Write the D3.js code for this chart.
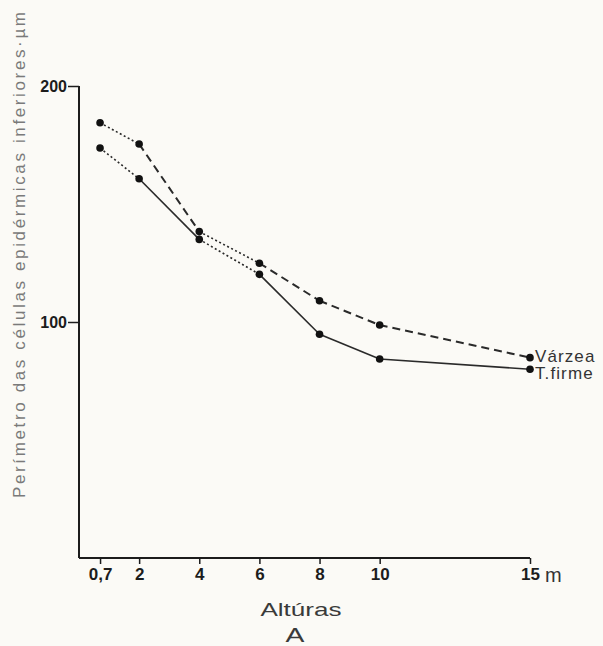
<!DOCTYPE html>
<html>
<head>
<meta charset="utf-8">
<script src="https://cdn.jsdelivr.net/npm/d3@7"></script>
<style>
  html, body { margin: 0; padding: 0; background: #fbfaf6; }
  svg { display: block; }
  text { font-family: "Liberation Sans", Arial, sans-serif; }
</style>
</head>
<body>
<svg id="chart" width="603" height="646"></svg>
<script>
// Heights (m) at which leaves were sampled
const heights = [0.7, 2, 4, 6, 8, 10, 15];
const xTickLabels = ["0,7", "2", "4", "6", "8", "10", "15"];
const yTicks = [100, 200];

// Perimeter of lower epidermal cells (µm)
const varzea = [184.4, 175.4, 138.3, 124.9, 109.0, 98.7, 84.9];
const tfirme = [173.7, 160.7, 135.0, 120.2, 94.8, 84.3, 80.0];

// Stroke style of each segment between consecutive heights
const varzeaSegments = ["dotted", "dashed", "dotted", "dashed", "dashed", "dashed"];
const tfirmeSegments = ["dotted", "solid", "dotted", "solid", "solid", "solid"];

const seriesNames = ["Várzea", "T.firme"];

const svg = d3.select("#chart");
const x = d3.scaleLinear().domain([0, 15]).range([79, 530]);
const y = d3.scaleLinear().domain([0, 200]).range([558, 86]);

const ink = "#1c1c1c";

// Axes drawn as plain lines with outward ticks
const yAxis = d3.axisLeft(y).tickValues(yTicks).tickSize(11).tickFormat(d3.format("d"));
const gy = svg.append("g").attr("transform", `translate(${x(0)},0)`).call(yAxis);
gy.select(".domain").attr("d", `M0,${y(200)}V${y(0)}`).attr("stroke", ink).attr("stroke-width", 2);
gy.selectAll(".tick line").attr("stroke", ink).attr("stroke-width", 1.5);
gy.selectAll(".tick text")
  .attr("font-size", 16).attr("fill", ink).attr("x", -12).attr("dy", "0.36em")
  .attr("font-weight", "bold")
  .attr("font-family", "Liberation Sans, Arial, sans-serif");

const xAxis = d3.axisBottom(x).tickValues(heights).tickSize(6)
  .tickFormat((d, i) => xTickLabels[i]);
const gx = svg.append("g").attr("transform", `translate(0,${y(0)})`).call(xAxis);
gx.select(".domain").attr("d", `M${x(0)},0H${x(15)}`).attr("stroke", ink).attr("stroke-width", 2);
gx.selectAll(".tick line").attr("stroke", ink).attr("stroke-width", 1.5);
gx.selectAll(".tick text")
  .attr("font-size", 17).attr("fill", ink).attr("y", 10).attr("dy", "0.71em")
  .attr("font-weight", "bold")
  .attr("font-family", "Liberation Sans, Arial, sans-serif");

// unit after the last tick
svg.append("text")
  .attr("x", x(15) + 15).attr("y", y(0) + 24)
  .attr("font-size", 20).attr("fill", "#333")
  .text("m");

// axis titles
svg.append("text")
  .attr("transform", "translate(25,498) rotate(-90)")
  .attr("font-size", 17).attr("fill", "#7a7a7a")
  .attr("textLength", 486).attr("lengthAdjust", "spacing")
  .text("Perímetro das células epidérmicas inferiores·µm");

// wide lettering for the x title and panel letter
svg.append("text")
  .attr("transform", "translate(301,616) scale(1.45,1)")
  .attr("text-anchor", "middle")
  .attr("font-size", 18).attr("fill", "#3a3a3a")
  .text("Altúras");

svg.append("text")
  .attr("transform", "translate(295,642) scale(1.35,1)")
  .attr("text-anchor", "middle")
  .attr("font-size", 21).attr("fill", "#3a3a3a")
  .text("A");

// series lines, segment by segment
const dashFor = { dotted: "2,2.5", dashed: "8,5", solid: null };
const widthFor = { dotted: 1.6, dashed: 2, solid: 1.6 };

function drawSeries(values, segments) {
  const segData = segments.map((s, i) => ({
    x1: heights[i], y1: values[i], x2: heights[i + 1], y2: values[i + 1], style: s
  }));
  svg.append("g").selectAll("line").data(segData).join("line")
    .attr("x1", d => x(d.x1)).attr("y1", d => y(d.y1))
    .attr("x2", d => x(d.x2)).attr("y2", d => y(d.y2))
    .attr("stroke", "#2a2a2a")
    .attr("stroke-width", d => widthFor[d.style])
    .attr("stroke-dasharray", d => dashFor[d.style]);
  svg.append("g").selectAll("circle").data(values).join("circle")
    .attr("cx", (d, i) => x(heights[i])).attr("cy", d => y(d))
    .attr("r", 3.8).attr("fill", "#111");
}

drawSeries(varzea, varzeaSegments);
drawSeries(tfirme, tfirmeSegments);

// series labels at the last point
const lastIdx = heights.length - 1;
svg.append("text")
  .attr("x", x(15) + 5).attr("y", y(varzea[lastIdx]) + 4)
  .attr("font-size", 17).attr("letter-spacing", 1.1).attr("fill", "#333")
  .text(seriesNames[0]);
svg.append("text")
  .attr("x", x(15) + 5).attr("y", y(tfirme[lastIdx]) + 10)
  .attr("font-size", 17).attr("letter-spacing", 1.1).attr("fill", "#333")
  .text(seriesNames[1]);
</script>
</body>
</html>
